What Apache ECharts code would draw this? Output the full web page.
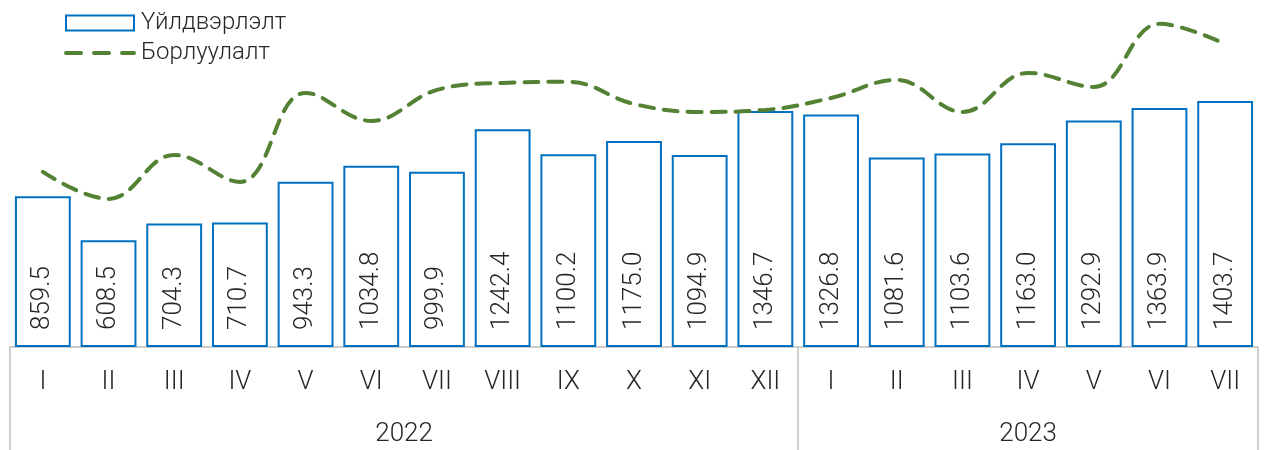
<!DOCTYPE html>
<html>
<head>
<meta charset="utf-8">
<script src="https://cdn.jsdelivr.net/npm/echarts@6/dist/echarts.min.js"></script>
<style>
  html, body { margin: 0; padding: 0; background: #ffffff; }
  #chart { width: 1264px; height: 450px; }
</style>
</head>
<body>
<div id="chart"></div>
<script>
// months for 2022 (12) and 2023 (7)
const months = ['I', 'II', 'III', 'IV', 'V', 'VI', 'VII', 'VIII', 'IX', 'X', 'XI', 'XII',
  'I', 'II', 'III', 'IV', 'V', 'VI', 'VII']
const years = ['2022', '2023']
const yearMonthCounts = [12, 7]

// Үйлдвэрлэлт (bars)
const production = [859.5, 608.5, 704.3, 710.7, 943.3, 1034.8, 999.9, 1242.4, 1100.2, 1175.0,
  1094.9, 1346.7, 1326.8, 1081.6, 1103.6, 1163.0, 1292.9, 1363.9, 1403.7]
// Борлуулалт (dashed line)
const sales = [999, 845, 1096, 942, 1450, 1290, 1467, 1507, 1513, 1387,
  1341, 1353, 1421, 1524, 1341, 1564, 1484, 1844, 1729]

// year group boundaries and centers on a 0..n scale
const boundaries = [0]
const yearCenters = []
yearMonthCounts.forEach(n => {
  const start = boundaries[boundaries.length - 1]
  yearCenters.push(start + n / 2)
  boundaries.push(start + n)
})

const chart = echarts.init(document.getElementById('chart'))

const font = 'Roboto'
const gray = '#BFBFBF'

const option = {
  animation: false,
  legend: {
    orient: 'vertical',
    left: 59,
    top: 6,
    itemWidth: 68,
    itemHeight: 15,
    itemGap: 6,
    textStyle: { fontFamily: font, fontWeight: 300, fontSize: 24, color: '#262626', lineHeight: 24, padding: [0, 0, 0, 2] },
    data: [
      { name: 'Үйлдвэрлэлт', icon: 'rect' },
      {
        name: 'Борлуулалт',
        itemStyle: { opacity: 0 },
        lineStyle: { width: 4, type: [15, 13], cap: 'round' }
      }
    ]
  },
  grid: { left: 10, right: 6, top: 0, bottom: 103 },
  xAxis: [
    {
      type: 'category',
      data: months,
      boundaryGap: true,
      axisLine: { show: true, lineStyle: { color: gray, width: 1.5 } },
      axisTick: { show: false },
      axisLabel: { fontFamily: font, fontWeight: 300, fontSize: 26, color: '#262626', margin: 22, interval: 0 }
    },
    {
      type: 'value',
      position: 'bottom',
      min: 0,
      max: months.length,
      splitLine: { show: false },
      axisLine: { show: false },
      axisTick: { show: true, customValues: boundaries, length: 103, lineStyle: { color: gray, width: 1.5 } },
      axisLabel: {
        customValues: yearCenters,
        fontFamily: font, fontWeight: 300, fontSize: 26, color: '#262626', margin: 74,
        formatter: v => years[yearCenters.indexOf(v)] || ''
      }
    }
  ],
  yAxis: { type: 'value', min: 0, max: 1980, show: false, splitLine: { show: false } },
  series: [
    {
      name: 'Үйлдвэрлэлт',
      type: 'bar',
      data: production,
      barCategoryGap: '15%',
      itemStyle: { color: '#ffffff', borderColor: '#0070C0', borderWidth: 2 },
      label: {
        show: true,
        position: 'insideBottom',
        rotate: 90,
        align: 'left',
        verticalAlign: 'middle',
        distance: 17,
        fontFamily: font,
        fontWeight: 300,
        fontSize: 26,
        color: '#262626',
        formatter: p => p.value.toFixed(1)
      }
    },
    {
      name: 'Борлуулалт',
      type: 'line',
      data: sales,
      smooth: 0.4,
      symbol: 'none',
      itemStyle: { color: '#548235' },
      lineStyle: { color: '#548235', width: 4, type: [14, 10], cap: 'round' }
    }
  ]
}

chart.setOption(option)
</script>
</body>
</html>
